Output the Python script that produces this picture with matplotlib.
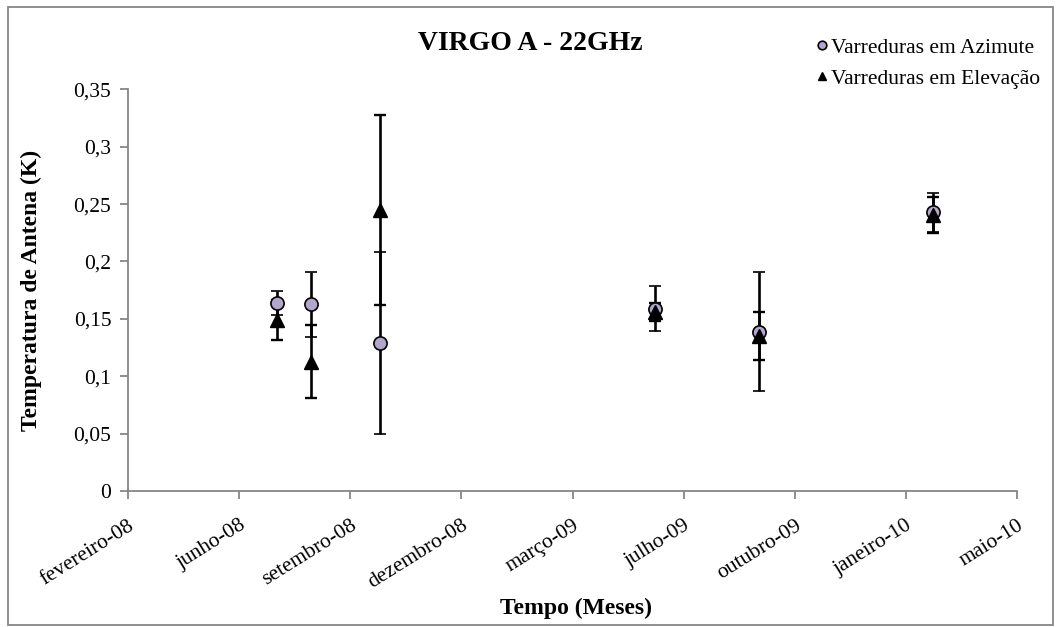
import datetime as dt

import matplotlib
matplotlib.use("Agg")
import matplotlib.pyplot as plt
from matplotlib.patches import Rectangle

plt.rcParams["font.family"] = ["Liberation Serif", "DejaVu Serif"]

# eixo de datas (Excel: passo de 100 dias)
axis_start = dt.date(2008, 2, 23)
tick_step_days = 100
tick_labels = ["fevereiro-08", "junho-08", "setembro-08", "dezembro-08",
               "março-09", "julho-09", "outubro-09", "janeiro-10", "maio-10"]

# medidas
obs_dates = ["2008-07-06", "2008-08-06", "2008-10-07",
             "2009-06-11", "2009-09-13", "2010-02-16"]
az_temp = [0.164, 0.1625, 0.1286, 0.159, 0.1387, 0.243]
az_err = [0.0105, 0.0284, 0.0793, 0.020, 0.0517, 0.017]
el_temp = [0.149, 0.1126, 0.245, 0.156, 0.135, 0.2405]
el_err = [0.0175, 0.032, 0.083, 0.0075, 0.021, 0.016]

W, H = 1061, 627
fig = plt.figure(figsize=(W / 100, H / 100), dpi=100)
ax = fig.add_axes([128 / W, 1 - 491 / H, (1017 - 128) / W, (491 - 89.3) / H])

x = [dt.date.fromisoformat(d) for d in obs_dates]

ax.errorbar(x, az_temp, yerr=az_err, fmt="o", color="black", ecolor="black",
            elinewidth=1.9, capsize=4.5, capthick=1.7,
            markerfacecolor="#B3A6CE", markeredgecolor="black",
            markeredgewidth=1.2, markersize=9.5, label="Varreduras em Azimute")
ax.errorbar(x, el_temp, yerr=el_err, fmt="^", color="black", ecolor="black",
            elinewidth=1.9, capsize=4.5, capthick=1.7,
            markerfacecolor="black", markeredgecolor="black",
            markersize=9.5, label="Varreduras em Elevação")

ticks = [axis_start + dt.timedelta(days=tick_step_days * i) for i in range(len(tick_labels))]
ax.set_xlim(ticks[0], ticks[-1])
ax.set_xticks(ticks)
ax.set_xticklabels(tick_labels, rotation=32, ha="right", va="top",
                   rotation_mode="anchor", fontsize=15.5)
ax.set_ylim(0, 0.35)
yt = [0, 0.05, 0.1, 0.15, 0.2, 0.25, 0.3, 0.35]
ax.set_yticks(yt)
ax.set_yticklabels([("%g" % v).replace(".", ",") for v in yt], fontsize=15.5)

for s in ["top", "right"]:
    ax.spines[s].set_visible(False)
for s in ["left", "bottom"]:
    ax.spines[s].set_color("#868686")
    ax.spines[s].set_linewidth(1.3)
ax.tick_params(axis="both", direction="out", length=6, width=1.3, color="#868686")
ax.tick_params(axis="x", pad=12)
ax.tick_params(axis="y", pad=6)

fig.text(31 / W, 1 - 290 / H, "Temperatura de Antena (K)", fontsize=17,
         fontweight="bold", rotation=90, ha="center", va="center")
fig.text(576 / W, 1 - 608 / H, "Tempo (Meses)", fontsize=17, fontweight="bold",
         ha="center", va="center")
fig.text(530 / W, 1 - 43 / H, "VIRGO A - 22GHz", fontsize=20, fontweight="bold",
         ha="center", va="center")

handles, labels = ax.get_legend_handles_labels()
handles = [h[0] for h in handles]
fig.legend(handles, labels, loc="upper left", bbox_to_anchor=(806 / W, 1 - 27 / H),
           frameon=False, fontsize=15.5, handlelength=0.5, handletextpad=0.15,
           markerscale=0.65, labelspacing=0.5, borderpad=0)

fig.add_artist(Rectangle((8 / W, 2 / H), (1053 - 8) / W, (620 - 2) / H,
                         transform=fig.transFigure, fill=False,
                         edgecolor="#868686", linewidth=1.3))

fig.savefig("out.png", dpi=100)
